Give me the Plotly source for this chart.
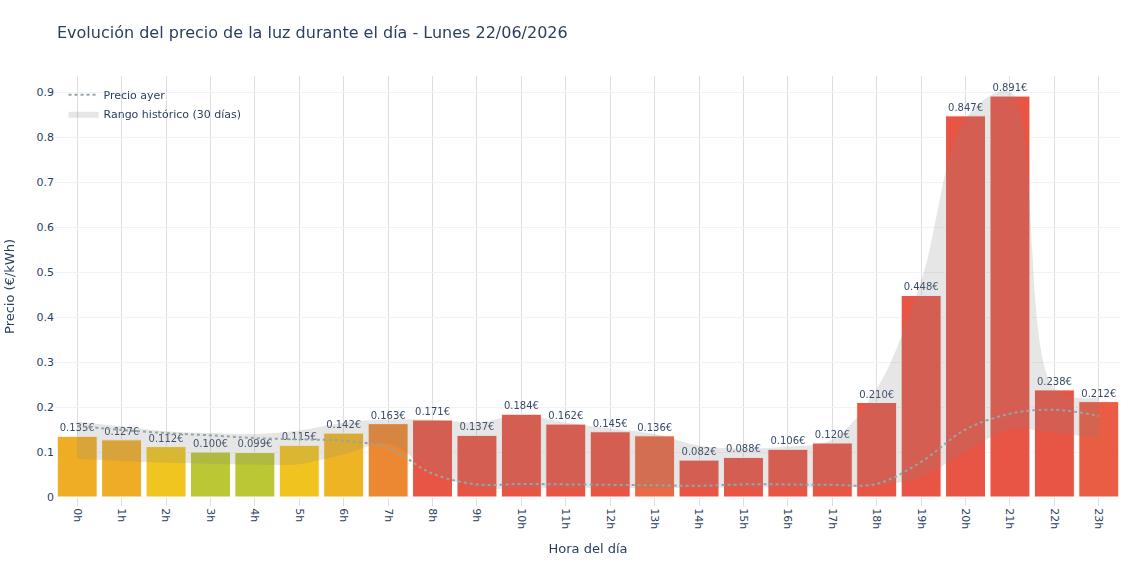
import plotly.graph_objects as go

hours = [f"{h}h" for h in range(24)]
hour_idx = list(range(24))

precio_hoy = [0.135, 0.127, 0.112, 0.100, 0.099, 0.115, 0.142, 0.163, 0.171, 0.137,
              0.184, 0.162, 0.145, 0.136, 0.082, 0.088, 0.106, 0.120, 0.210, 0.448,
              0.847, 0.891, 0.238, 0.212]

precio_ayer = [0.158, 0.149, 0.142, 0.137, 0.131, 0.128, 0.125, 0.109, 0.052, 0.028,
               0.029, 0.028, 0.027, 0.026, 0.025, 0.028, 0.028, 0.027, 0.029, 0.078,
               0.150, 0.185, 0.194, 0.180]

hist_max = [0.168, 0.157, 0.146, 0.142, 0.140, 0.148, 0.165, 0.172, 0.172, 0.165,
            0.182, 0.165, 0.152, 0.140, 0.114, 0.108, 0.112, 0.128, 0.240, 0.480,
            0.840, 0.900, 0.240, 0.222]

hist_min = [0.085, 0.080, 0.076, 0.074, 0.072, 0.073, 0.095, 0.118, 0.058, 0.020,
            0.020, 0.020, 0.020, 0.020, 0.020, 0.021, 0.021, 0.021, 0.025, 0.045,
            0.100, 0.150, 0.143, 0.131]

bar_colors = ["#efa91b", "#eea81c", "#f0c214", "#b8c42a", "#b8c42a", "#f1c014",
              "#efb019", "#ec8228", "#e74c3c", "#e74c3c", "#e74c3c", "#e74c3c",
              "#e74c3c", "#e8633a", "#e74c3c", "#e74c3c", "#e74c3c", "#e74c3c",
              "#e74c3c", "#e74c3c", "#e74c3c", "#e74c3c", "#e74c3c", "#e8553a"]

FONT = "DejaVu Sans"

fig = go.Figure()

fig.add_trace(go.Bar(
    x=hour_idx, y=precio_hoy,
    marker=dict(color=bar_colors, line=dict(color="white", width=1)),
    opacity=0.95,
    text=[f"{v:.3f}€" for v in precio_hoy],
    textposition="outside",
    textfont=dict(size=10, color="#2a3f5f", family=FONT),
    cliponaxis=False,
    showlegend=False,
    name="Precio hoy",
))

fig.add_trace(go.Scatter(
    x=hour_idx, y=hist_min, mode="lines",
    line=dict(width=0, shape="spline"),
    showlegend=False, hoverinfo="skip",
))
fig.add_trace(go.Scatter(
    x=hour_idx, y=hist_max, mode="lines",
    line=dict(width=0, shape="spline"),
    fill="tonexty", fillcolor="rgba(128,128,128,0.2)",
    name="Rango histórico (30 días)", legendrank=2,
))

fig.add_trace(go.Scatter(
    x=hour_idx, y=precio_ayer, mode="lines",
    line=dict(color="#95a5a6", width=2, dash="dot", shape="spline"),
    name="Precio ayer", legendrank=1,
))

fig.update_layout(
    template="plotly_white",
    width=1140, height=570,
    font=dict(family=FONT, color="#2a3f5f"),
    margin=dict(l=55, r=19, t=76, b=73),
    title=dict(text="Evolución del precio de la luz durante el día - Lunes 22/06/2026",
               font=dict(size=16)),
    bargap=0.1,
    legend=dict(x=0.008, y=0.99, xanchor="left", yanchor="top", traceorder="normal",
                bgcolor="rgba(255,255,255,0)", font=dict(size=11)),
    xaxis=dict(
        title=dict(text="Hora del día", font=dict(size=13)),
        tickmode="array", tickvals=hour_idx, ticktext=hours,
        tickangle=90, range=[-0.5, 23.5], tickfont=dict(size=11),
        ticks="outside", ticklen=8, tickcolor="#dedede",
        gridcolor="#dedede", showgrid=True, automargin=False,
    ),
    yaxis=dict(
        title=dict(text="Precio (€/kWh)", font=dict(size=13), standoff=18),
        range=[0, max(precio_hoy) * 1.05], dtick=0.1, tickfont=dict(size=11),
        gridcolor="#f0f2f7", zeroline=False, automargin=False,
    ),
)

fig.write_html("out.html")
